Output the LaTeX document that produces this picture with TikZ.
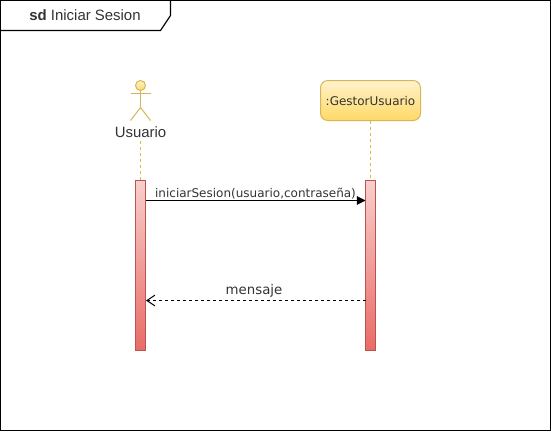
\documentclass[tikz,border=0pt]{standalone}
\usepackage{fontspec}
\setmainfont{Liberation Sans}
\newfontfamily\dvs{DejaVu Sans}
\usetikzlibrary{arrows.meta}
\definecolor{yeltop}{HTML}{FFF2CC}
\definecolor{yelbot}{HTML}{FFD966}
\definecolor{actline}{HTML}{D6B656}
\definecolor{lifeline}{HTML}{E0B840}
\definecolor{redtop}{HTML}{F8CECC}
\definecolor{redbot}{HTML}{EA6B66}
\definecolor{redline}{HTML}{B85450}
\definecolor{txt}{HTML}{333333}
\tikzset{
  x=0.75pt,y=-0.75pt,
  framestyle/.style={draw=black,line width=0.85pt},
  objbox/.style={draw=actline,rounded corners=5.5pt,top color=yeltop,bottom color=yelbot,line width=0.75pt},
  activation/.style={draw=redline,line width=0.75pt,top color=redtop,bottom color=redbot},
  actorline/.style={draw=actline,line width=0.75pt},
  lifel/.style={draw=lifeline,line width=0.75pt,dash pattern=on 2.25pt off 2.25pt},
  msg/.style={draw=black,line width=0.75pt},
  label/.style={inner sep=0pt,text=txt,anchor=base},
}
\begin{document}
\begin{tikzpicture}
\useasboundingbox (0,0) rectangle (551,432);
% frame
\draw[framestyle] (0.5,0.5) rectangle (550.5,430.5);
\draw[framestyle] (0.5,30.5) -- (160.5,30.5) -- (170.5,15.5) -- (170.5,0.5);
\node[label] (title) at (85,21) {\fontsize{11.2pt}{13pt}\selectfont\textbf{sd} Iniciar Sesion};
% actor
\coordinate (head) at (140.5,85.5);
\coordinate (neck) at (140.5,90.5);
\coordinate (hip) at (140.5,107.5);
\draw[actorline] (neck) -- (hip);
\draw[actorline] (130.5,93.5) -- (150.5,93.5);
\draw[actorline] (130.5,120.5) -- (hip) -- (150.5,120.5);
\shade[top color=yeltop,bottom color=yelbot] (head) circle (5);
\draw[actorline] (head) circle (5);
\node[label] (user) at (140.5,137.5) {\fontsize{11.2pt}{13pt}\selectfont Usuario};
% gestor
\node[objbox,minimum width=75pt,minimum height=30pt,inner sep=0pt] (gestor) at (370.5,100.5) {};
\node[label] (gestortxt) at (370.5,105) {\dvs\fontsize{9pt}{11pt}\selectfont :GestorUsuario};
% activations
\node[activation,minimum width=7.5pt,minimum height=127.5pt,inner sep=0pt] (a1) at (140.5,265.5) {};
\node[activation,minimum width=7.5pt,minimum height=127.5pt,inner sep=0pt] (a2) at (370.5,265.5) {};
% lifelines
\draw[lifel] (140.5,141) -- (a1.north);
\draw[lifel] (gestor.south) -- (a2.north);
% messages
\coordinate (m1a) at (145.5,200.5);
\coordinate (m1b) at (365.5,200.5);
\coordinate (m2a) at (365.5,300.5);
\coordinate (m2b) at (146,300.5);
\draw[msg,-{Triangle[length=6.5pt,width=6.5pt]}] (m1a) -- (m1b);
\draw[msg,dash pattern=on 2.25pt off 2.25pt,-{Straight Barb[length=6pt,width=8pt]}] (m2a) -- (m2b);
\node[label] (m1) at (255.5,197) {\dvs\fontsize{9pt}{11pt}\selectfont iniciarSesion(usuario,contraseña)};
\node[label] (m2) at (254,294) {\dvs\fontsize{10pt}{12pt}\selectfont mensaje};
\end{tikzpicture}
\end{document}
